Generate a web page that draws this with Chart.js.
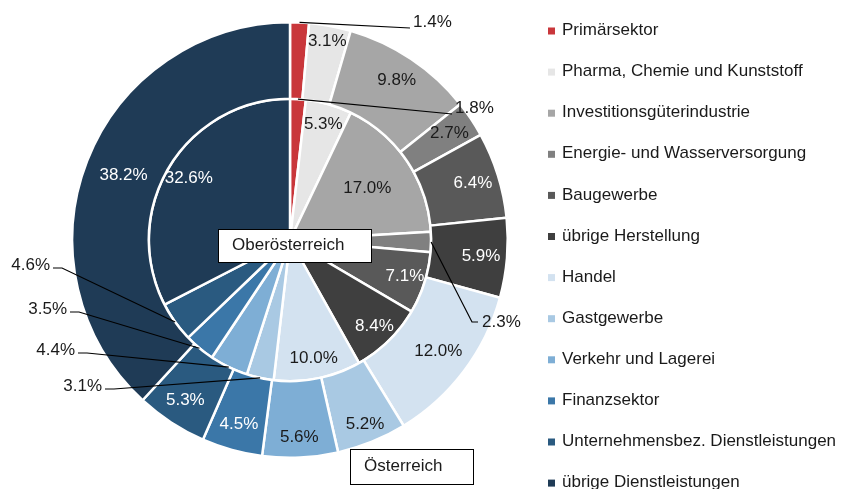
<!DOCTYPE html>
<html>
<head>
<meta charset="utf-8">
<script src="https://cdn.jsdelivr.net/npm/chart.js@4"></script>
<style>
  html, body { margin: 0; padding: 0; background: #fff; }
  #wrap { width: 841px; height: 489px; position: relative; }
</style>
</head>
<body>
<div id="wrap"><canvas id="sectorChart"></canvas></div>
<script>
const sectors = [
  "Primärsektor",
  "Pharma, Chemie und Kunststoff",
  "Investitionsgüterindustrie",
  "Energie- und Wasserversorgung",
  "Baugewerbe",
  "übrige Herstellung",
  "Handel",
  "Gastgewerbe",
  "Verkehr und Lagerei",
  "Finanzsektor",
  "Unternehmensbez. Dienstleistungen",
  "übrige Dienstleistungen",
];
const sectorColors = [
  "#C9373B", "#E6E6E6", "#A6A6A6", "#808080", "#595959", "#3F3F3F",
  "#D3E2F0", "#A9C9E3", "#7EAED5", "#3B77A8", "#2A5A80", "#1F3B56",
];
// outer ring
const oesterreich = [1.4, 3.1, 9.8, 2.7, 6.4, 5.9, 12.0, 5.2, 5.6, 4.5, 5.3, 38.2];
// inner pie
const oberoesterreich = [1.8, 5.3, 17.0, 2.3, 7.1, 8.4, 10.0, 3.1, 4.4, 3.5, 4.6, 32.6];
// slices whose labels are white
const darkSlices = [4, 5, 9, 10, 11];

const FONT = '"Liberation Sans", Arial, sans-serif';

// labels drawn outside with a leader line
const callouts = [
  { ds: 0, i: 0, x: 413, y: 22, align: "left" },
  { ds: 1, i: 0, x: 455, y: 108, align: "left" },
  { ds: 1, i: 3, x: 482, y: 322, align: "left", elbow: [472, 322] },
  { ds: 1, i: 10, x: 50, y: 265, align: "right" },
  { ds: 1, i: 9, x: 67, y: 309, align: "right" },
  { ds: 1, i: 8, x: 75, y: 350, align: "right" },
  { ds: 1, i: 7, x: 102, y: 386, align: "right" },
];
// where the label sits inside its slice (0 = inner edge, 1 = outer edge)
const outerLabelPos = { 1: 0.8, 6: 0.58, 7: 0.76, 8: 0.74, 11: 0.49 };
const innerLabelPos = { 2: 0.66, 11: 0.84 };

const fmt = (v) => v.toFixed(1) + "%";

const labelPlugin = {
  id: "sectorLabels",
  afterDraw(chart) {
    const ctx = chart.ctx;
    ctx.save();
    ctx.font = "17px " + FONT;
    ctx.textBaseline = "middle";

    chart.data.datasets.forEach((ds, d) => {
      const meta = chart.getDatasetMeta(d);
      meta.data.forEach((arc, i) => {
        if (callouts.some((c) => c.ds === d && c.i === i)) return;
        const mid = (arc.startAngle + arc.endAngle) / 2;
        const f = d === 0 ? (outerLabelPos[i] || 0.66) : (innerLabelPos[i] || 0.855);
        const r = arc.innerRadius + (arc.outerRadius - arc.innerRadius) * f;
        const px = arc.x + Math.cos(mid) * r;
        const py = arc.y + Math.sin(mid) * r;
        ctx.fillStyle = darkSlices.includes(i) ? "#fff" : "#1a1a1a";
        ctx.textAlign = "center";
        ctx.fillText(fmt(ds.data[i]), px, py);
      });
    });

    // callouts with leader lines
    ctx.strokeStyle = "#000";
    ctx.lineWidth = 1.2;
    callouts.forEach((c) => {
      const arc = chart.getDatasetMeta(c.ds).data[c.i];
      const mid = (arc.startAngle + arc.endAngle) / 2;
      const ax = arc.x + Math.cos(mid) * arc.outerRadius;
      const ay = arc.y + Math.sin(mid) * arc.outerRadius;
      ctx.beginPath();
      ctx.moveTo(ax, ay);
      if (c.elbow) {
        ctx.lineTo(c.elbow[0], c.elbow[1]);
        ctx.lineTo(c.x - 4, c.y);
      } else if (c.align === "left") {
        ctx.lineTo(c.x - 3, c.y + 6);
      } else {
        ctx.lineTo(c.x + 12, c.y + 3);
        ctx.lineTo(c.x + 3, c.y + 3);
      }
      ctx.stroke();
      ctx.fillStyle = "#1a1a1a";
      ctx.textAlign = c.align;
      ctx.fillText(fmt(chart.data.datasets[c.ds].data[c.i]), c.x, c.y);
    });

    // series name boxes
    const boxes = [
      { text: chart.data.datasets[1].label, x: 218, y: 229, w: 153, h: 33 },
      { text: chart.data.datasets[0].label, x: 350, y: 449, w: 123, h: 35 },
    ];
    boxes.forEach((b) => {
      ctx.fillStyle = "#fff";
      ctx.fillRect(b.x, b.y, b.w, b.h);
      ctx.strokeStyle = "#000";
      ctx.lineWidth = 1;
      ctx.strokeRect(b.x + 0.5, b.y + 0.5, b.w, b.h);
      ctx.fillStyle = "#1a1a1a";
      ctx.textAlign = "left";
      ctx.fillText(b.text, b.x + 14, b.y + b.h / 2);
    });

    // legend
    ctx.textAlign = "left";
    chart.data.labels.forEach((lab, i) => {
      const y = 30.5 + i * 41.1;
      ctx.fillStyle = sectorColors[i];
      ctx.fillRect(548, y - 3, 7, 7);
      ctx.fillStyle = "#1a1a1a";
      ctx.fillText(lab, 562, y);
    });
    ctx.restore();
  },
};

const ctx = document.getElementById("sectorChart").getContext("2d");
const sectorChart = new Chart(ctx, {
  type: "doughnut",
  data: {
    labels: sectors,
    datasets: [
      {
        label: "Österreich",
        data: oesterreich,
        backgroundColor: sectorColors,
        borderColor: "#fff",
        borderWidth: 2.5,
        weight: 76,
      },
      {
        label: "Oberösterreich",
        data: oberoesterreich,
        backgroundColor: sectorColors,
        borderColor: "#fff",
        borderWidth: 2.5,
        weight: 140,
      },
    ],
  },
  options: {
    responsive: true,
    maintainAspectRatio: false,
    animation: false,
    events: [],
    cutout: 0,
    hoverOffset: 0,
    layout: {
      padding: { left: 71, top: 21, right: 332, bottom: 30 },
    },
    plugins: {
      legend: { display: false },
      tooltip: { enabled: false },
    },
  },
  plugins: [labelPlugin],
});
</script>
</body>
</html>
